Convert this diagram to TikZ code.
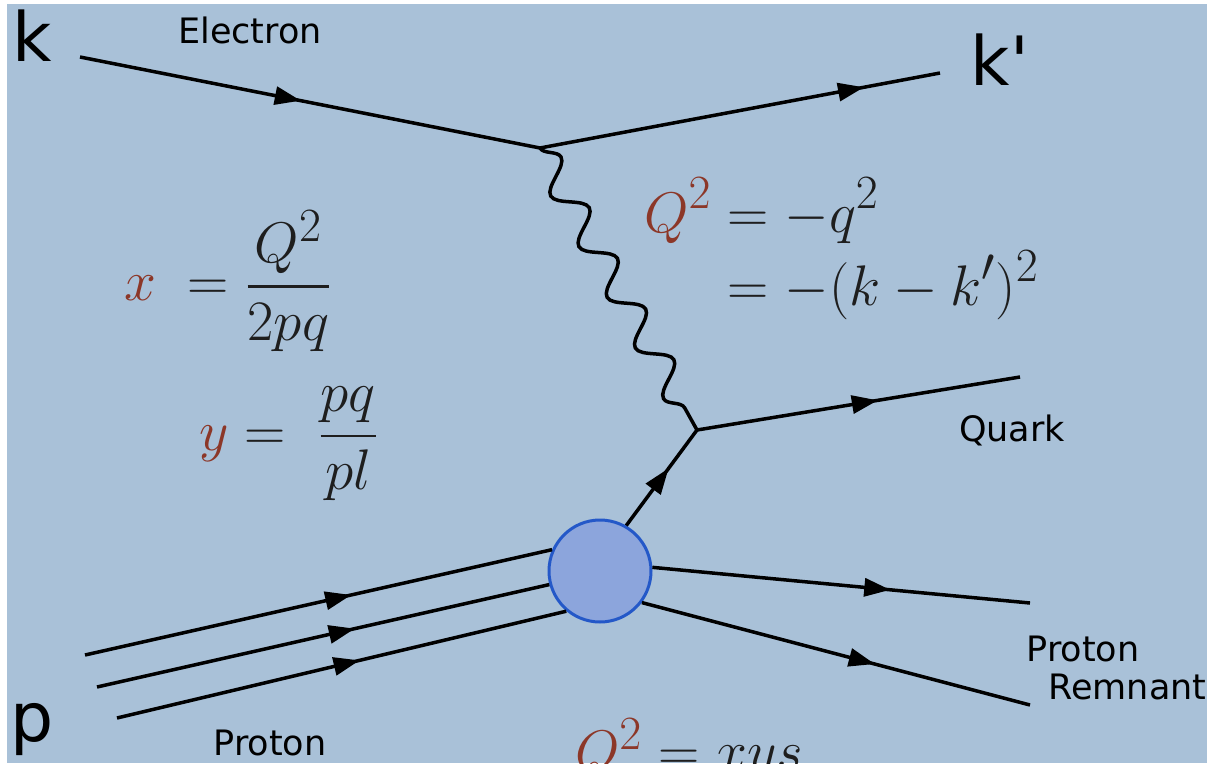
\documentclass[tikz,border=0pt]{standalone}
\usepackage{amsmath}
\usepackage{fontspec}
\setsansfont{DejaVu Sans}[Ligatures=TeXOff]
\usetikzlibrary{arrows.meta,decorations.markings,decorations.pathmorphing}
\definecolor{bgblue}{RGB}{169,193,216}
\definecolor{blobfill}{RGB}{140,165,220}
\definecolor{blobedge}{RGB}{36,88,200}
\definecolor{qred}{RGB}{140,55,40}
\definecolor{mathgray}{RGB}{30,30,30}
\newcommand{\fsz}[2]{\fontsize{#1pt}{#2pt}\selectfont}
\begin{document}
\begin{tikzpicture}[x=1pt, y=-1pt,
    fermion/.style={line width=3.5pt, postaction={decorate},
      decoration={markings, mark=at position #1 with {\arrow{Triangle[length=26pt, width=18pt]}}}},
    fermion/.default=0.5,
    photon/.style={line width=3.5pt, decorate, decoration={snake, segment length=58pt, amplitude=14pt}},
    partname/.style={font=\sffamily\fsz{35}{38}},
    bigletter/.style={font=\sffamily\fsz{68}{80}},
    formula/.style={font=\Huge, scale=2.3, transform shape, text=mathgray}]
    \useasboundingbox (0,0) rectangle (1215,763);
    \fill[white] (0,0) rectangle (1215,763);
    \fill[bgblue] (7,4) rectangle (1207,763);

    \coordinate (kin) at (80,57);
    \coordinate (v1) at (540,148);
    \coordinate (kout) at (940,73);
    \coordinate (v2) at (697,430);
    \coordinate (qout) at (1020,377);
    \coordinate (r1) at (1030,603);
    \coordinate (r2) at (1030,705);
    \coordinate (p1) at (85,655);
    \coordinate (p2) at (97,687);
    \coordinate (p3) at (117,718);

    \node[circle, inner sep=0pt, minimum size=102pt, fill=blobfill, draw=blobedge, line width=3pt] (blob) at (600,571) {};

    % electron and photon
    \draw[fermion=0.48] (kin) -- (v1);
    \draw[fermion=0.81] (v1) -- (kout);
    \draw[photon] (v1) -- (v2);

    % struck quark and remnant
    \draw[fermion=0.56] (v2) -- (qout);
    \draw[fermion=0.6] (blob.60) -- (v2);
    \draw[fermion=0.63] (blob.4) -- (r1);
    \draw[fermion=0.6] (blob.323) -- (r2);

    % incoming proton
    \draw[fermion=0.57] (p1) -- (blob.156);
    \draw[fermion=0.57] (p2) -- (blob.195);
    \draw[fermion=0.54] (p3) -- (blob.230);

    \node[bigletter] (klab) at (32,36) {k};
    \node[partname] (elab) at (250,30) {Electron};
    \node[bigletter] (kplab) at (1000,60) {k'};
    \node[bigletter] (plab) at (32,730) {p};
    \node[partname] (plabel) at (270,743) {Proton};
    \node[partname] (qlab) at (1012,430) {Quark};
    \node[partname, align=left, anchor=north west] (rlab) at (1023,632) {Proton\\\hspace*{22pt}Remnant};

    \node[formula, anchor=west] (qdef) at (636,252) {$\begin{aligned}{\color{qred}Q^2} &= -q^2\\[-5pt] &= -(k-k')^2\end{aligned}$};
    \node[formula] (xdef) at (228,281) {${\color{qred}x} \;= \dfrac{Q^2}{2pq}$};
    \node[formula] (ydef) at (289,444) {${\color{qred}y} = \;\dfrac{pq}{pl}$};
    \node[formula, anchor=base] (qxys) at (689,770) {${\color{qred}Q^2} = xys$};
\end{tikzpicture}
\end{document}
